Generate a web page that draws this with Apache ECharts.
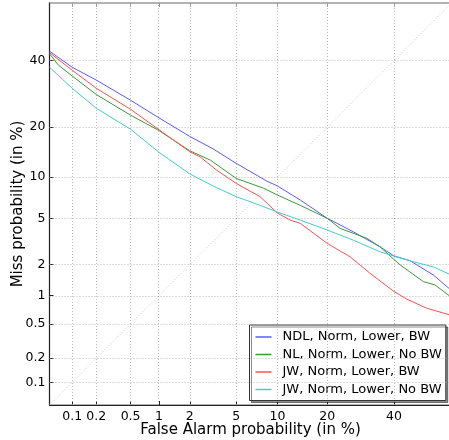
<!DOCTYPE html>
<html>
<head>
<meta charset="utf-8">
<script src="https://cdn.jsdelivr.net/npm/echarts@6/dist/echarts.min.js"></script>
<style>
html,body{margin:0;padding:0;background:#fff;}
#c{width:449px;height:440px;}
</style>
</head>
<body>
<div id="c"></div>
<script>
// ---- data (percent) ----
const tickValues = [0.1, 0.2, 0.5, 1, 2, 5, 10, 20, 40];
const tickLabels = ['0.1', '0.2', '0.5', '1', '2', '5', '10', '20', '40'];
const axisRange = [0.05, 60];

const seriesNames = ['NDL, Norm, Lower, BW', 'NL, Norm, Lower, No BW', 'JW, Norm, Lower, BW', 'JW, Norm, Lower, No BW'];

const ndlFA   = [0.05, 0.1, 0.2, 0.5, 1, 2, 3.22, 5, 8.45, 10, 14.0, 20, 27.0, 35.3, 40, 45.5, 53.7, 59.2];
const ndlMiss = [43.2, 37.7, 33.5, 27.3, 22.4, 17.8, 15.1, 12.3, 9.4, 8.7, 6.9, 5.0, 3.89, 2.90, 2.40, 2.18, 1.60, 1.18];

const nlFA    = [0.05, 0.066, 0.1, 0.2, 0.5, 1, 2, 3.05, 5, 8.0, 10, 14.0, 20, 23.3, 31.1, 35.3, 42.1, 50.2, 54.3, 59.2];
const nlMiss  = [42.3, 38.4, 34.8, 29.0, 23.1, 19.2, 14.7, 12.9, 9.8, 8.4, 7.5, 6.3, 5.0, 4.15, 3.43, 2.90, 1.99, 1.38, 1.28, 1.00];

const jwFA    = [0.05, 0.1, 0.2, 0.5, 1, 2, 2.48, 3.47, 5, 7.57, 10, 12.1, 14.0, 20, 26.1, 32.1, 40, 44.4, 51.4, 59.2];
const jwMiss  = [42.7, 36.7, 30.9, 24.7, 19.4, 14.5, 13.5, 11.1, 9.06, 7.3, 5.5, 4.84, 4.56, 3.10, 2.36, 1.66, 1.10, 0.92, 0.74, 0.63];

const jwnFA   = [0.05, 0.1, 0.2, 0.5, 1, 2, 3.22, 5, 7.57, 10, 14.0, 20, 27.0, 35.3, 40, 46.7, 53.7, 59.2];
const jwnMiss = [37.7, 30.9, 25.0, 19.5, 14.4, 10.5, 8.7, 7.3, 6.3, 5.6, 4.84, 4.02, 3.31, 2.62, 2.40, 2.13, 1.91, 1.63];

const diagPct = [0.05, 60];

// ---- probit (inverse normal CDF, Acklam) ----
function probit(p) {
  const a = [-3.969683028665376e+01, 2.209460984245205e+02, -2.759285104469687e+02, 1.383577518672690e+02, -3.066479806614716e+01, 2.506628277459239e+00];
  const b = [-5.447609879822406e+01, 1.615858368580409e+02, -1.556989798598866e+02, 6.680131188771972e+01, -1.328068155288572e+01];
  const c = [-7.784894002430293e-03, -3.223964580411365e-01, -2.400758277161838e+00, -2.549732539343734e+00, 4.374664141464968e+00, 2.938163982698783e+00];
  const d = [7.784695709041462e-03, 3.224671290700398e-01, 2.445134137142996e+00, 3.754408661907416e+00];
  const pl = 0.02425, ph = 1 - pl;
  let q, r;
  if (p < pl) {
    q = Math.sqrt(-2 * Math.log(p));
    return (((((c[0]*q+c[1])*q+c[2])*q+c[3])*q+c[4])*q+c[5]) / ((((d[0]*q+d[1])*q+d[2])*q+d[3])*q+1);
  } else if (p <= ph) {
    q = p - 0.5; r = q*q;
    return (((((a[0]*r+a[1])*r+a[2])*r+a[3])*r+a[4])*r+a[5])*q / (((((b[0]*r+b[1])*r+b[2])*r+b[3])*r+b[4])*r+1);
  } else {
    q = Math.sqrt(-2 * Math.log(1 - p));
    return -(((((c[0]*q+c[1])*q+c[2])*q+c[3])*q+c[4])*q+c[5]) / ((((d[0]*q+d[1])*q+d[2])*q+d[3])*q+1);
  }
}
const P = v => probit(v / 100);
const toPts = (fa, miss) => fa.map((f, i) => [P(f), P(miss[i])]);
const tickPos = tickValues.map(P);
function fmt(val) {
  let best = 0, bd = Infinity;
  tickPos.forEach((t, i) => { const dd = Math.abs(t - val); if (dd < bd) { bd = dd; best = i; } });
  return tickLabels[best];
}

const colors = ['#5a5aff', '#3a9a3a', '#ff5050', '#44cccc'];
const FONT = 'DejaVu Sans';

const chart = echarts.init(document.getElementById('c'), null, {renderer: 'canvas'});
const mkLine = (name, data, color) => ({
  name, type: 'line', data, showSymbol: false, symbol: 'none', smooth: false,
  lineStyle: {color, width: 1}, itemStyle: {color}, animation: false, z: 5
});

const gridLineStyle = {color: '#aaa', type: [1, 2], width: 0.8};

chart.setOption({
  animation: false,
  grid: {left: 49.5, top: 3, width: 402, height: 402, containLabel: false, outerBoundsMode: 'none',
         show: true, borderColor: '#999', borderWidth: 1.5, backgroundColor: 'transparent'},
  xAxis: [{
    type: 'value', min: P(axisRange[0]), max: P(axisRange[1]),
    name: 'False Alarm probability (in %)', nameLocation: 'middle', nameGap: 18, nameMoveOverlap: false,
    nameTextStyle: {fontFamily: FONT, fontSize: 15, color: '#000'},
    axisLine: {show: true, onZero: false, lineStyle: {color: '#222', width: 1}},
    axisTick: {show: true, inside: true, length: 4, customValues: tickPos, lineStyle: {color: '#222'}},
    axisLabel: {customValues: tickPos, formatter: fmt, fontFamily: FONT, fontSize: 12.5, color: '#000', margin: 5},
    splitLine: {show: false}
  }, {
    type: 'value', position: 'top', min: P(axisRange[0]), max: P(axisRange[1]),
    axisLine: {show: false, onZero: false},
    axisTick: {show: true, inside: true, length: 4, customValues: tickPos, lineStyle: {color: '#999'}},
    axisLabel: {show: false}, splitLine: {show: false}
  }],
  yAxis: {
    type: 'value', min: P(axisRange[0]), max: P(axisRange[1]),
    name: 'Miss probability (in %)', nameLocation: 'middle', nameGap: 24, nameRotate: 90, nameMoveOverlap: false,
    nameTextStyle: {fontFamily: FONT, fontSize: 15, color: '#000'},
    axisLine: {show: true, onZero: false, lineStyle: {color: '#222', width: 1}},
    axisTick: {show: true, inside: true, length: 4, customValues: tickPos, lineStyle: {color: '#222'}},
    axisLabel: {customValues: tickPos, formatter: fmt, fontFamily: FONT, fontSize: 12.5, color: '#000', margin: 4},
    splitLine: {show: false}
  },
  legend: {
    orient: 'vertical', left: 249.5, top: 325,
    data: seriesNames.map(n => ({name: n, icon: 'rect'})),
    itemWidth: 16, itemHeight: 1.5, itemGap: 3.5,
    padding: [5, 4, 4, 6],
    backgroundColor: '#fff', borderColor: '#333', borderWidth: 1, borderRadius: 0,
    shadowColor: 'rgba(0,0,0,0.45)', shadowBlur: 0, shadowOffsetX: 2, shadowOffsetY: 2,
    textStyle: {fontFamily: FONT, fontSize: 13, color: '#000', padding: [0, 0, 0, 6], lineHeight: 14},
    selectedMode: false
  },
  series: [
    {
      name: 'grid', type: 'line', data: [], silent: true, z: 1,
      markLine: {
        silent: true, symbol: ['none', 'none'], label: {show: false}, animation: false,
        lineStyle: gridLineStyle, emphasis: {disabled: true},
        data: tickPos.map(t => ({xAxis: t})).concat(tickPos.map(t => ({yAxis: t})))
      }
    },
    {
      name: 'diag', type: 'line', data: diagPct.map(v => [P(v), P(v)]), showSymbol: false, symbol: 'none',
      lineStyle: {color: '#c8c8c8', width: 1, type: [1, 2]}, silent: true, z: 2
    },
    mkLine(seriesNames[0], toPts(ndlFA, ndlMiss), colors[0]),
    mkLine(seriesNames[1], toPts(nlFA, nlMiss), colors[1]),
    mkLine(seriesNames[2], toPts(jwFA, jwMiss), colors[2]),
    mkLine(seriesNames[3], toPts(jwnFA, jwnMiss), colors[3])
  ]
});
</script>
</body>
</html>
